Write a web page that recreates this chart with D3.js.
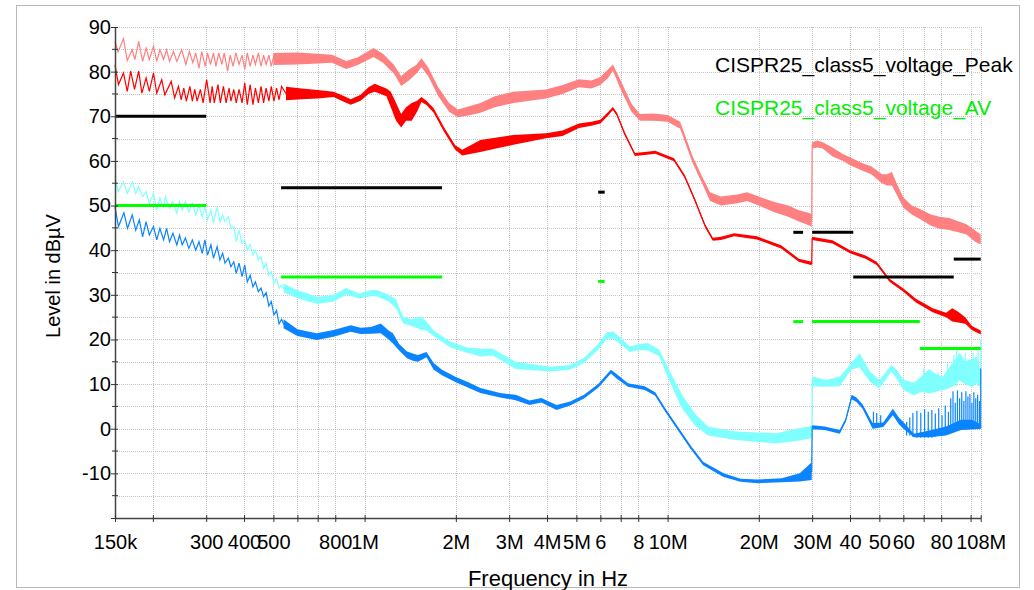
<!DOCTYPE html>
<html>
<head>
<meta charset="utf-8">
<script src="https://cdn.jsdelivr.net/npm/d3@7"></script>
<style>
body { margin: 0; background: #fff; }
text { font-family: "Liberation Sans", Arial, sans-serif; }
</style>
</head>
<body>
<svg id="chart" width="1034" height="590"></svg>
<script>
// frequencies in MHz, levels in dBµV
const xTicks = [0.15, 0.2, 0.3, 0.4, 0.5, 0.6, 0.7, 0.8, 1, 2, 3, 4, 5, 6, 7, 8, 10, 20, 30, 40, 50, 60, 70, 80, 100, 108];
const xLabelFreqs = [0.15, 0.3, 0.4, 0.5, 0.8, 1, 2, 3, 4, 5, 6, 8, 10, 20, 30, 40, 50, 60, 80, 108];
const xLabelTexts = ['150k', '300', '400', '500', '800', '1M', '2M', '3M', '4M', '5M', '6', '8', '10M', '20M', '30M', '40', '50', '60', '80', '108M'];
const yTicks = [-20, -10, 0, 10, 20, 30, 40, 50, 60, 70, 80, 90];
const yMinorTicks = [-15, -5, 5, 15, 25, 35, 45, 55, 65, 75, 85];

// limit lines: [fStart, fEnd, level]
const peakLimit = [[0.15, 0.3, 70], [0.53, 1.8, 54], [5.9, 6.2, 53], [26, 28, 44], [30, 41, 44], [41, 88, 34], [88, 108, 38]];
const avLimit = [[0.15, 0.3, 50], [0.53, 1.8, 34], [5.9, 6.2, 33], [26, 28, 24], [30, 68, 24], [68, 108, 18]];

// low frequency ripple, [f, level]
const salmonRipple = [[0.150,86.8],[0.1535,84.4],[0.160,87.4],[0.1646,82.5],[0.171,84.9],[0.1744,82.7],[0.1796,86.8],[0.185,82.3],[0.190,85.3],[0.1947,82.7],[0.201,85.7],[0.206,82.3],[0.211,84.9],[0.217,82.7],[0.222,84.9],[0.227,82.3],[0.234,84.5],[0.240,82.3],[0.249,84.9],[0.257,81.6],[0.264,84.5],[0.271,82.0],[0.277,84.2],[0.284,80.8],[0.290,84.5],[0.298,81.2],[0.303,84.2],[0.310,81.6],[0.317,84.2],[0.323,81.2],[0.330,84.2],[0.338,81.6],[0.344,84.2],[0.353,80.1],[0.360,83.7],[0.368,81.2],[0.376,84.2],[0.385,81.6],[0.394,83.7],[0.402,80.5],[0.410,84.2],[0.419,81.2],[0.428,83.7],[0.436,81.6],[0.446,84.2],[0.455,81.2],[0.464,83.7],[0.473,81.6],[0.483,83.7],[0.492,81.2],[0.502,83.7]];
const redRipple = [[0.150,81.5],[0.154,77.1],[0.160,79.7],[0.1646,75.6],[0.169,80.1],[0.174,76.0],[0.1796,80.1],[0.184,75.2],[0.190,78.6],[0.1947,75.6],[0.201,79.7],[0.206,75.2],[0.214,78.2],[0.219,74.8],[0.230,77.8],[0.236,74.1],[0.243,76.7],[0.248,73.7],[0.253,76.3],[0.258,73.4],[0.265,76.7],[0.270,73.4],[0.275,76.0],[0.280,73.4],[0.287,76.0],[0.293,73.0],[0.301,78.2],[0.309,73.0],[0.314,76.7],[0.319,73.0],[0.328,77.1],[0.334,73.0],[0.342,76.7],[0.349,73.0],[0.357,76.3],[0.362,73.4],[0.370,76.0],[0.377,73.0],[0.385,76.0],[0.394,73.0],[0.402,77.5],[0.410,72.6],[0.419,77.1],[0.428,72.6],[0.436,76.3],[0.446,73.0],[0.455,76.7],[0.464,73.0],[0.473,76.3],[0.483,73.4],[0.492,76.7],[0.502,73.4],[0.512,76.3],[0.522,73.7],[0.532,76.7]];
const cyanRipple = [[0.150,56.8],[0.1535,53.1],[0.160,55.3],[0.1646,52.7],[0.171,55.3],[0.1756,52.7],[0.1796,54.2],[0.185,52.0],[0.190,53.1],[0.1947,50.5],[0.201,52.7],[0.206,49.0],[0.211,51.6],[0.217,49.7],[0.220,52.0],[0.227,49.4],[0.232,50.9],[0.240,48.3],[0.245,50.9],[0.250,49.0],[0.256,50.9],[0.263,48.6],[0.270,50.5],[0.277,47.9],[0.284,50.1],[0.291,47.5],[0.297,49.7],[0.303,46.8],[0.311,49.0],[0.317,46.0],[0.326,49.7],[0.333,46.4],[0.340,47.9],[0.346,46.4],[0.355,47.5],[0.362,44.9],[0.370,45.3],[0.377,41.9],[0.385,44.5],[0.394,41.5],[0.402,42.3],[0.410,40.0],[0.419,41.2],[0.428,38.9],[0.436,40.0],[0.446,37.8],[0.455,38.5],[0.464,35.9],[0.473,37.1],[0.483,34.4],[0.492,35.2],[0.502,32.6],[0.512,33.7],[0.522,31.5],[0.532,32.2]];
const blueRipple = [[0.150,49.7],[0.154,45.3],[0.1605,48.4],[0.165,44.9],[0.171,47.9],[0.1756,44.5],[0.1805,46.8],[0.185,43.0],[0.190,46.4],[0.1947,43.4],[0.201,45.3],[0.206,42.3],[0.211,44.9],[0.217,42.3],[0.222,44.9],[0.227,41.9],[0.233,43.8],[0.240,41.2],[0.245,43.4],[0.250,41.2],[0.256,42.7],[0.263,40.4],[0.270,42.3],[0.277,40.0],[0.284,41.9],[0.291,39.3],[0.297,42.3],[0.303,38.9],[0.311,41.2],[0.317,38.2],[0.326,40.8],[0.333,37.8],[0.340,39.3],[0.346,37.1],[0.355,38.2],[0.362,36.3],[0.370,37.4],[0.377,34.8],[0.385,37.1],[0.394,34.1],[0.402,36.7],[0.410,32.9],[0.419,34.4],[0.428,31.8],[0.436,32.9],[0.446,30.7],[0.455,31.5],[0.464,29.6],[0.473,30.5],[0.483,27.5],[0.492,28.5],[0.502,25.5],[0.512,26.5],[0.522,23.5],[0.532,24.5]];

// dense part of the sweeps, [f, low, high]
const salmonBand = [[0.5,81.5,84.2],[0.6,81.6,84.3],[0.7,81.8,84],[0.78,82,83.8],[0.87,80.6,82.4],[0.95,81.5,83.2],[1.07,83.3,85.3],[1.15,82,84],[1.25,79.5,81.5],[1.32,76.8,79],[1.4,78,80.5],[1.48,79.5,81.5],[1.54,81,83],[1.62,79,81],[1.75,74.5,76.5],[1.9,71,73],[2.03,69.8,71.5],[2.2,70.2,72.2],[2.41,70.8,73],[2.69,72,74.5],[3.1,73,75.5],[3.97,74,76],[4.5,75,77],[5.1,76.5,78.3],[5.6,76.2,78],[6.0,77,78.8],[6.35,78.5,80.5],[6.6,80.2,81.6],[7.0,76,78],[7.6,71,72.8],[8.1,69,70.5],[9.0,69,70.6],[10,68.8,70.3],[11,67.2,68.8],[12.1,59.5,61],[13,55,56.5],[13.8,51,53],[15,50,52],[17,50.5,52.5],[18.3,51,53],[20,50,52],[22.5,48.5,50.8],[25,47.5,50],[27,46.5,49],[29.5,45.5,48.3],[29.9,45.2,48],[30.0,62.8,64.2],[31.2,63,64.6],[32.5,62.8,64.2],[35,61,63],[38,60,61.5],[40,59,60.8],[44,57.8,59.5],[47,57,58.8],[51,55,57],[53,54.5,57],[55,54.5,57.5],[57,52.5,55],[60,49.5,51.8],[64,48,50],[68,47,49.2],[74,45.5,48],[79,44.8,47.5],[85,44.5,47.2],[91,44,46.5],[97,43.5,45.8],[103,42,44.5],[108,41.3,43.5]];
const redBand = [[0.55,73.6,76.6],[0.62,73.8,76.2],[0.7,74,75.9],[0.79,74.3,75.5],[0.85,73.3,74.6],[0.9,72.6,73.8],[0.97,73.5,74.8],[1.03,75,76.5],[1.08,75.5,77.3],[1.13,75,76.7],[1.18,74.5,76.2],[1.22,72,75.5],[1.27,69,73],[1.32,67.5,70.5],[1.37,69,72],[1.43,69,73],[1.49,71,73.5],[1.54,73.2,74.3],[1.6,72.5,73.5],[1.69,70.8,71.8],[1.83,66.5,67.5],[1.99,62.5,63.5],[2.1,61.2,62.5],[2.41,62,64.7],[2.6,62.5,65],[3.1,63.6,65.8],[3.97,65.1,66.2],[4.5,65.6,66.8],[5.1,67.4,68.4],[5.6,67.9,68.8],[6.0,68.4,69.2],[6.35,70.1,70.9],[6.6,71.4,72.1],[6.8,70.1,70.8],[7.2,65.9,66.6],[7.8,61.1,61.8],[8.4,61.3,62],[9.1,61.6,62.3],[10.5,59.9,60.6],[11.4,56.1,56.8],[12.3,50.9,51.6],[13.3,45.1,45.8],[14.1,42.1,42.8],[15,42.3,43],[16.6,43.1,43.8],[19.7,42.4,43.1],[23.7,40.4,41.1],[27.1,37.4,38.1],[29.9,36.6,37.4],[30.0,42.3,43],[35,41.5,42.2],[40,39.3,40],[45,38.1,38.8],[49,36.7,37.4],[54,32.9,33.6],[60,30.7,31.4],[66,28.3,29.1],[75,26.1,27],[83,25,26],[87,24,27],[91,23.8,26.2],[96,23.5,25],[101,22.1,23],[108,21.1,22]];
const cyanBand = [[0.54,30.5,32.5],[0.6,29.3,31],[0.65,28.5,30.3],[0.7,28,29.5],[0.79,28.5,30],[0.87,30,31.5],[0.96,29.2,30.3],[1.05,29.7,31],[1.1,29.6,31.1],[1.2,28.5,30],[1.27,27,29],[1.34,23.6,25.1],[1.43,23,24.5],[1.49,22.5,25],[1.54,22.1,25.1],[1.6,22,24],[1.69,20.8,22],[1.8,19.5,20.8],[1.92,18.2,19.5],[2.18,17,18.2],[2.41,16.2,18],[2.65,16.4,17.9],[3.15,13.4,15],[4.1,12.8,13.9],[4.77,13.2,14.3],[5.3,14.7,15.9],[5.9,17.7,19],[6.3,20.1,21.6],[6.6,20.2,21.8],[7.0,18.9,20.4],[7.5,17.2,18.4],[8.0,17.6,18.9],[8.6,17.6,19.2],[9.4,16.2,17.7],[10,11.6,13.9],[11.1,4.8,7.9],[12.3,0.7,3.4],[13.6,-1.5,0.5],[16.8,-2.5,-0.6],[22.8,-3.3,-1],[27,-2.7,0.1],[29.4,-2.2,0.5],[29.95,-2,1],[30,9.5,11.7],[33.4,9.4,10.9],[37,9.5,11.7],[40.4,13.2,14.7],[43,13.8,16.9],[46.5,10.5,12.9],[50,9,10.9],[54.8,12.8,14.3],[57,11.2,13.2],[60,8.7,11],[65,7.5,10.3],[69,8.3,11.8],[73,7.9,13.3],[77,8.3,12.2],[81,8.7,11.7],[86,9.2,14.2],[92,10.8,17],[96,9.9,15.2],[101,9.4,15.5],[105,10.2,16.1],[108,9.2,12.6]];
const blueBand = [[0.54,22.5,24.5],[0.6,20.8,22.3],[0.694,19.9,21.4],[0.79,20.6,22.1],[0.9,21.7,23.2],[0.97,21.2,22.6],[1.05,21.3,22.8],[1.13,21.4,23.6],[1.2,20,22],[1.24,19.1,21.4],[1.3,17.5,19],[1.38,15.8,17.3],[1.45,15.2,16.8],[1.5,15,16.5],[1.6,16,17.2],[1.69,13.2,14.7],[1.8,12,13.2],[2.0,10.4,11.6],[2.2,9.2,10.4],[2.41,8,9.1],[2.8,7,8],[3.15,6.4,7.6],[3.5,5.3,6.3],[3.83,5.9,6.9],[4.3,4.2,5.3],[4.77,5.2,6.1],[5.3,6.8,7.6],[5.9,9.2,10],[6.5,12.4,13.2],[6.8,11.2,12.2],[7.4,9.4,10.2],[8.4,8.7,9.5],[9.1,7.4,8.2],[9.8,3.9,4.7],[10.7,0.1,0.9],[11.9,-4.5,-3.7],[13.1,-8.2,-7.4],[15.3,-10.8,-10],[17.4,-11.9,-11.2],[19.8,-12.2,-11.4],[23.8,-12,-11.1],[27.3,-11.8,-10],[29.9,-11.5,-7.5],[30,-0.1,0.8],[33,-0.3,0.5],[37,-1.1,-0.3],[38.7,1.5,2.3],[40.5,6.6,7.6],[42,6,7],[44,4.5,5.5],[47.5,0,1.3],[51.5,0.4,1.4],[55.4,3,4.5],[58,1,2.5],[60,0,1.5],[65,-1.9,-1.1],[73,-1.9,-0.4],[83,-1.5,0.5],[93,-0.3,2],[101,-0.2,2],[108,0,1]];

// narrow spikes, [f, low, top]
const cyanSpikes = [[70,8.6,13.6],[74,8.6,13.1],[78,8.6,12.6],[84,9.1,14.6],[88,9.6,16.6],[90,9.6,17.6],[93,10.6,16.6],[96,10.1,17.1],[99,10.1,15.6],[102,9.6,17.1],[104,10.1,16.1],[106,9.6,17.6],[108,9.6,20]];
const blueSpikes = [[47.8,0.5,3.8],[49,0.5,3.5],[50.5,0.5,3],[61.5,-1.5,1.5],[63,-1.5,2.5],[64.5,-1.8,3.5],[66.5,-2,4],[68.5,-2,3.6],[70.5,-2,4.4],[72.5,-2,3.8],[74.5,-2,4.2],[76.5,-1.8,3.4],[78.5,-1.5,4.6],[80.5,-1.5,3],[82.5,-1,5.2],[84.5,-1,3.8],[86,-0.8,6.8],[87.5,-0.5,8.4],[89,-0.5,5.8],[90.5,-0.5,8.6],[92,-0.2,6.8],[93.5,-0.2,8.2],[95,-0.2,6.2],[96.5,0,8.4],[98,0,7.2],[99.5,0,7.8],[101,0,5.8],[102.5,0,8.2],[104,0,6.8],[105.5,0,7.6],[107,0,6.2],[108,0,13.5]];

const svg = d3.select('#chart');
const x = d3.scaleLog().domain([0.15, 108]).range([115, 980.7]);
const y = d3.scaleLinear().domain([-20, 90]).range([518, 27]);
const px = v => Math.round(v) + 0.5;

// outer frame
svg.append('rect')
    .attr('x', 16.5).attr('y', 5.5)
    .attr('width', 1003).attr('height', 582)
    .attr('fill', 'none').attr('stroke', '#b8b8b8');

// grid
const grid = svg.append('g');
grid.selectAll('.hgrid')
    .data(yTicks.concat(yMinorTicks).filter(d => d > -20))
    .enter().append('line')
    .attr('x1', 115).attr('x2', 981)
    .attr('y1', d => px(y(d))).attr('y2', d => px(y(d)))
    .attr('stroke', '#c4c4c4').attr('stroke-dasharray', '1,1');
grid.selectAll('.vgrid')
    .data(xTicks.slice(1))
    .enter().append('line')
    .attr('x1', d => px(x(d))).attr('x2', d => px(x(d)))
    .attr('y1', 27).attr('y2', 518)
    .attr('stroke', '#c4c4c4').attr('stroke-dasharray', '1,1');

// traces
function drawTrace(ripple, band, spikes, color) {
    const g = svg.append('g');
    g.append('path').datum(band)
        .attr('d', d3.area().x(d => x(d[0])).y0(d => y(d[1])).y1(d => y(d[2])))
        .attr('fill', color);
    const mid = ripple.concat(band.map(d => [d[0], (d[1] + d[2]) / 2]));
    g.append('path').datum(mid)
        .attr('d', d3.line().x(d => x(d[0])).y(d => y(d[1])))
        .attr('fill', 'none').attr('stroke', color).attr('stroke-width', 1.2);
    g.selectAll('.spike').data(spikes).enter().append('line')
        .attr('x1', d => x(d[0])).attr('x2', d => x(d[0]))
        .attr('y1', d => y(d[1])).attr('y2', d => y(d[2]))
        .attr('stroke', color).attr('stroke-width', 1.2);
}
drawTrace(salmonRipple, salmonBand, [], '#ff8080');
drawTrace(redRipple, redBand, [], '#ff0000');
drawTrace(cyanRipple, cyanBand, cyanSpikes, '#80ffff');
drawTrace(blueRipple, blueBand, blueSpikes, '#0a84ff');

// limit lines
function drawLimit(data, color) {
    svg.append('g').selectAll('line').data(data).enter().append('line')
        .attr('x1', d => x(d[0])).attr('x2', d => x(d[1]))
        .attr('y1', d => y(d[2])).attr('y2', d => y(d[2]))
        .attr('stroke', color).attr('stroke-width', 3);
}
drawLimit(peakLimit, '#000000');
drawLimit(avLimit, '#00ff00');

// axes
const yAxis = d3.axisLeft(y).tickValues(yTicks).tickSize(4).tickPadding(0).tickSizeOuter(0)
    .tickFormat(d => d === -20 ? '' : d);
const gY = svg.append('g').attr('transform', 'translate(115,0)').call(yAxis);
gY.selectAll('.tick line').attr('x1', 3).attr('x2', -4);
gY.selectAll('.tick text').attr('font-size', 20).attr('font-family', 'Liberation Sans, Arial, sans-serif').attr('fill', '#000');
gY.selectAll('.minor').data(yMinorTicks).enter().append('line')
    .attr('x1', -3).attr('x2', 3)
    .attr('y1', d => y(d)).attr('y2', d => y(d))
    .attr('stroke', '#333');

const labelFor = d => {
    const i = xLabelFreqs.indexOf(d);
    return i < 0 ? '' : xLabelTexts[i];
};
const xAxis = d3.axisBottom(x).tickValues(xTicks).tickSize(4).tickSizeOuter(0).tickFormat(labelFor);
const gX = svg.append('g').attr('transform', 'translate(0,518)').call(xAxis);
gX.selectAll('.tick line').attr('y1', -3).attr('y2', 4);
gX.selectAll('.tick text').attr('y', 31).attr('dy', 0)
    .attr('font-size', 20).attr('font-family', 'Liberation Sans, Arial, sans-serif').attr('fill', '#000');

svg.selectAll('.domain').attr('stroke', '#444').attr('stroke-width', 1.5);
svg.selectAll('.tick line').attr('stroke', '#333');

// titles
svg.append('text')
    .attr('transform', 'translate(60,276) rotate(-90)')
    .attr('text-anchor', 'middle').attr('font-size', 20)
    .text('Level in dBµV');
svg.append('text')
    .attr('x', 548).attr('y', 586)
    .attr('text-anchor', 'middle').attr('font-size', 22)
    .text('Frequency in Hz');

// legend
svg.append('text').attr('x', 715).attr('y', 72).attr('font-size', 21).attr('fill', '#000')
    .text('CISPR25_class5_voltage_Peak');
svg.append('text').attr('x', 715).attr('y', 115).attr('font-size', 21).attr('fill', '#00ee00')
    .text('CISPR25_class5_voltage_AV');
</script>
</body>
</html>
